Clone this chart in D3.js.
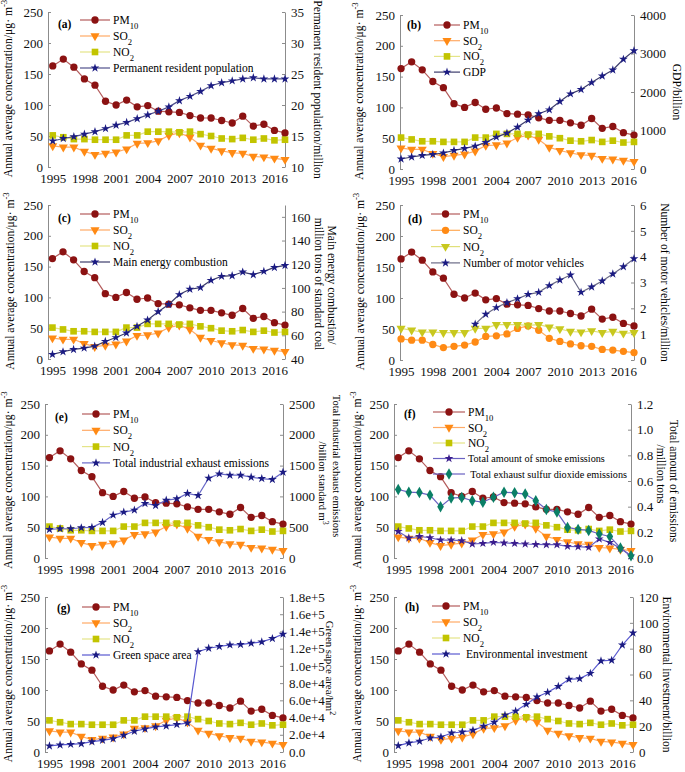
<!DOCTYPE html>
<html>
<head>
<meta charset="utf-8">
<script src="https://cdn.jsdelivr.net/npm/d3@7"></script>
<style>
  body { margin: 0; background: #fff; }
  text { font-family: "Liberation Serif", "Times New Roman", serif; }
</style>
</head>
<body>
<div id="chart"></div>
<script>
const W = 685, H = 772;

// ---- data ----
const years = [1995, 1996, 1997, 1998, 1999, 2000, 2001, 2002, 2003, 2004, 2005, 2006,
               2007, 2008, 2009, 2010, 2011, 2012, 2013, 2014, 2015, 2016, 2017];
const yearTicks = [1995, 1998, 2001, 2004, 2007, 2010, 2013, 2016];
const leftTicks = [0, 50, 100, 150, 200, 250];

const pm10 = [163, 174, 161, 142, 132, 106, 100, 108, 97, 99, 90, 89, 88, 83, 79, 79, 75, 71, 82, 66, 69, 59, 55];
const so2  = [34, 32, 32, 25, 20, 22, 24, 29, 38, 39, 42, 51, 55, 48, 35, 30, 26, 23, 22, 17, 16, 14, 12];
const no2  = [51, 48, 45, 45, 44, 44, 44, 51, 51, 57, 57, 57, 56, 57, 53, 50, 46, 45, 47, 44, 46, 43, 44];

const population = [14.2, 14.6, 14.9, 15.3, 15.7, 16.2, 16.75, 17.2, 17.8, 18.4, 19.0, 19.7,
                    20.7, 21.4, 22.2, 23.1, 23.6, 23.9, 24.2, 24.4, 24.2, 24.2, 24.2];
const gdp = [259, 311, 354, 380, 415, 484, 535, 596, 691, 829, 933, 1088,
             1270, 1434, 1537, 1753, 1952, 2064, 2245, 2418, 2573, 2850, 3074];
const energy = [43.9, 46.1, 48.1, 49.2, 50.9, 54.8, 58.1, 62.0, 67.6, 72.9, 79.9, 86.0,
                94.4, 98.9, 100.3, 106.4, 109.8, 110.3, 113.4, 111.2, 114.0, 117.3, 119.0];
const vehicles = [null, null, null, null, null, null, null, 1.39, 1.77, 2.03, 2.22, 2.37,
                  2.54, 2.62, 2.88, 3.10, 3.29, 2.62, 2.83, 3.06, 3.33, 3.61, 3.92];
const exhaust = [464, 475, 475, 491, 497, 578, 697, 745, 778, 886, 853, 940,
                 961, 1048, 1015, 1296, 1366, 1344, 1344, 1312, 1290, 1274, 1393];
const smoke = [0.207, 0.156, 0.168, 0.158, 0.140, 0.140, 0.135, 0.109, 0.114, 0.122, 0.117, 0.114,
               0.109, 0.106, 0.104, 0.104, 0.091, 0.088, 0.083, 0.148, 0.122, 0.075, 0.016];
const so2Emission = [0.534, 0.513, 0.510, 0.490, 0.400, 0.467, 0.472, 0.446, 0.435, 0.474, 0.513, 0.508,
                     0.498, 0.446, 0.378, 0.358, 0.238, 0.223, 0.215, 0.187, 0.168, 0.078, 0.018];
const green = [7000, 8200, 8900, 9700, 12000, 13600, 15500, 19400, 24100, 26800, 29200, 30300,
               31900, 33800, 116600, 120500, 122500, 124400, 124800, 126400, 127900, 131800, 136900];
const investment = [4.9, 7.0, 8.3, 10.8, 11.6, 14.7, 15.5, 16.8, 19.9, 23.0, 28.6, 31.7,
                    36.9, 42.6, 46.2, 50.8, 56.3, 56.8, 60.9, 70.5, 71.0, 82.8, 92.1];
const greenTicks = [0, 20000, 40000, 60000, 80000, 100000, 120000, 140000, 160000, 180000];
const greenTickLabels = ["0.0", "2.0e+4", "4.0e+4", "6.0e+4", "8.0e+4", "1.0e+5", "1.2e+5", "1.4e+5", "1.6e+5", "1.8e+5"];

// ---- styles ----
const PM = { name: "PM_{10}", values: pm10, sym: "circle", fill: "#8b1212", stroke: "#b45c5c" };
const SO = { name: "SO_{2}", values: so2, sym: "tri", fill: "#ff8a14", stroke: "#ffaa66" };
const NO = { name: "NO_{2}", values: no2, sym: "square", fill: "#c2c400", stroke: "#e4e488" };
const navy = "#1b1b82";

const panels = [
  { tag: "(a)", l: 48, r: 285, t: 12, b: 167, pad: 0.45, ylx: 8,
    rDomain: [10, 35], rTicks: [10, 15, 20, 25, 30, 35],
    rLabel: [{ x: 318, s: "Permanent resident population/million" }],
    leg: { x: 80, y: 20, len: 30, step: 16 }, tagPos: [58, 24],
    series: [PM, SO, NO, { name: "Permanent resident population", values: population, sym: "star", fill: navy, stroke: "#50508c", right: true }] },
  { tag: "(b)", l: 400, r: 634, t: 15, b: 169, pad: 0.1, ylx: 359,
    rDomain: [0, 4000], rTicks: [0, 1000, 2000, 3000, 4000],
    rLabel: [{ x: 677, s: "GDP/billion" }],
    leg: { x: 434, y: 25, len: 26, step: 15.7 }, tagPos: [407, 25],
    series: [PM, SO, NO, { name: "GDP", values: gdp, sym: "star", fill: navy, stroke: "#3c3c6c", right: true }] },
  { tag: "(c)", l: 48, r: 285, t: 205, b: 359, pad: 0.42, ylx: 10,
    rDomain: [40, 170], rTicks: [40, 60, 80, 100, 120, 140, 160],
    rLabel: [{ x: 332, s: "Main energy combustion/", cy: 285 }, { x: 319, s: "million tons of standard coal", cy: 284 }],
    leg: { x: 80, y: 214, len: 30, step: 16 }, tagPos: [58, 218],
    series: [PM, SO, NO, { name: "Main energy combustion", values: energy, sym: "star", fill: navy, stroke: "#3c3c6c", right: true }] },
  { tag: "(d)", l: 400, r: 634, t: 205, b: 360, pad: 0.1, ylx: 360,
    rDomain: [0, 6], rTicks: [0, 1, 2, 3, 4, 5, 6],
    rLabel: [{ x: 665, s: "Number of motor vehicles/million" }],
    leg: { x: 431, y: 214, len: 29, step: 16.3 }, tagPos: [408, 219],
    series: [PM, { name: "SO_{2}", values: so2, sym: "circle", fill: "#ff8a14", stroke: "#ffaa55" },
             { name: "NO_{2}", values: no2, sym: "tri", fill: "#c8c81e", stroke: "#e0e07a" },
             { name: "Number of motor vehicles", values: vehicles, sym: "star", fill: navy, stroke: "#6a6a86", right: true }] },
  { tag: "(e)", l: 45, r: 283, t: 404, b: 558, pad: 0.42, ylx: 8,
    rDomain: [0, 2500], rTicks: [0, 500, 1000, 1500, 2000, 2500],
    rLabel: [{ x: 337, s: "Total industrial exhaust emissions", cy: 466, fs: 10.5 }, { x: 323, s: "/billion standard m^{3}", cy: 483, fs: 10.5 }],
    leg: { x: 82, y: 414, len: 28, step: 16.3 }, tagPos: [55, 417],
    series: [PM, SO, NO, { name: "Total industrial exhaust emissions", values: exhaust, sym: "star", fill: navy, stroke: "#6868c8", right: true }] },
  { tag: "(f)", l: 394, r: 631, t: 404, b: 558, pad: 0.4, ylx: 357,
    rDomain: [0, 1.2], rTicks: [0, 0.2, 0.4, 0.6, 0.8, 1.0, 1.2], rFormat: ".1f",
    rLabel: [{ x: 674, s: "Total amount of emissions", cy: 481 }, { x: 661, s: "/million tons", cy: 474 }],
    leg: { x: 433, y: 412, len: 32, step: 15.5, small: true }, tagPos: [404, 414],
    series: [PM, SO, NO,
             { name: "Total amount of smoke emissions", values: smoke, sym: "star", fill: "#3a1c8c", stroke: "#6a62c2", right: true },
             { name: " Total exhaust sulfur dioxide emissions", values: so2Emission, sym: "diamond", fill: "#0a7f66", stroke: "#6a62c2", right: true }] },
  { tag: "(g)", l: 45, r: 283, t: 597, b: 752, pad: 0.42, ylx: 8,
    rDomain: [0, 180000], rTicks: greenTicks, rLabels: greenTickLabels,
    rLabel: [{ x: 330, s: "Green sapce area/hm^{2}", cy: 668, fs: 10.8 }],
    leg: { x: 82, y: 607, len: 28, step: 16 }, tagPos: [57, 608],
    series: [PM, SO, NO, { name: "Green space area", values: green, sym: "star", fill: navy, stroke: "#5858d0", right: true }] },
  { tag: "(h)", l: 394, r: 633, t: 597, b: 752, pad: 0.4, ylx: 357,
    rDomain: [0, 120], rTicks: [0, 20, 40, 60, 80, 100, 120],
    rLabel: [{ x: 667, s: "Environmental investment/billion" }],
    leg: { x: 432, y: 606, len: 28, step: 16 }, tagPos: [405, 607],
    series: [PM, SO, NO, { name: " Environmental investment", values: investment, sym: "star", fill: navy, stroke: "#5a5ad0", right: true }] },
];

const svg = d3.select("#chart").append("svg").attr("width", W).attr("height", H);

// text with _{sub} and ^{sup} parts
function richText(sel, str) {
  str.split(/(_\{[^}]*\}|\^\{[^}]*\})/).filter(p => p.length).forEach(p => {
    if (p[0] === "_" || p[0] === "^") {
      sel.append("tspan").text(p.slice(2, -1))
         .attr("baseline-shift", p[0] === "_" ? "sub" : "super")
         .attr("font-size", "75%");
    } else {
      sel.append("tspan").text(p);
    }
  });
  return sel;
}

const symbols = {
  circle: d3.symbol().type(d3.symbolCircle).size(42),
  square: d3.symbol().type(d3.symbolSquare).size(44),
  tri: d3.symbol().type(d3.symbolTriangle).size(36),
  star: d3.symbol().type(d3.symbolStar).size(24),
  diamond: d3.symbol().type(d3.symbolDiamond).size(38),
};
function marker(g, s, x, y) {
  g.append("path")
   .attr("d", symbols[s.sym]())
   .attr("transform", `translate(${x},${y})` + (s.sym === "tri" ? " rotate(180)" : ""))
   .attr("fill", s.fill);
}

panels.forEach(p => {
  const g = svg.append("g");
  const x = d3.scaleLinear().domain([1995 - p.pad, 2017]).range([p.l, p.r]);
  const yL = d3.scaleLinear().domain([0, 250]).range([p.b, p.t]);
  const yR = d3.scaleLinear().domain(p.rDomain).range([p.b, p.t]);

  // axes
  const la = g.append("g").attr("transform", `translate(${p.l},0)`)
    .call(d3.axisLeft(yL).tickValues(leftTicks).tickSizeInner(-3).tickSizeOuter(0).tickPadding(5));
  const rAxis = d3.axisRight(yR).tickValues(p.rTicks).tickSizeInner(-3).tickSizeOuter(0).tickPadding(6);
  if (p.rLabels) rAxis.tickFormat((d, i) => p.rLabels[i]);
  else rAxis.tickFormat(d3.format(p.rFormat || "d"));
  const ra = g.append("g").attr("transform", `translate(${p.r},0)`).call(rAxis);
  const xa = g.append("g").attr("transform", `translate(0,${p.b})`)
    .call(d3.axisBottom(x).tickValues(yearTicks).tickFormat(d3.format("d")).tickSize(0).tickPadding(7));
  xa.select(".domain").remove();
  [la, ra, xa].forEach(a => {
    a.selectAll("path, line").attr("stroke", "#8c8c8c");
    a.selectAll("text").attr("font-size", 13).attr("fill", "#111")
     .attr("font-family", '"Liberation Serif", "Times New Roman", serif');
  });

  // axis titles
  richText(g.append("text")
    .attr("transform", `translate(${p.ylx},${(p.t + p.b) / 2 - 1}) rotate(-90)`)
    .attr("text-anchor", "middle").attr("dy", "0.35em").attr("font-size", 11.6),
    "Annual average concentration/μg· m^{-3}");
  p.rLabel.forEach(lb => {
    richText(g.append("text")
      .attr("transform", `translate(${lb.x},${lb.cy || (p.t + p.b) / 2}) rotate(90)`)
      .attr("text-anchor", "middle").attr("dy", "0.35em").attr("font-size", lb.fs || 11.6),
      lb.s);
  });

  // series
  p.series.forEach(s => {
    const y = s.right ? yR : yL;
    const pts = s.values.map((v, i) => ({ yr: years[i], v })).filter(d => d.v != null);
    g.append("path").datum(pts)
      .attr("fill", "none").attr("stroke", s.stroke).attr("stroke-width", 1.2)
      .attr("d", d3.line().x(d => x(d.yr)).y(d => y(d.v)));
    pts.forEach(d => marker(g, s, x(d.yr), y(d.v)));
  });

  // panel tag
  g.append("text").attr("x", p.tagPos[0]).attr("y", p.tagPos[1]).attr("dy", "0.35em")
    .attr("font-size", 11.5).attr("font-weight", "bold").text(p.tag);

  // legend
  p.series.forEach((s, i) => {
    const ly = p.leg.y + i * p.leg.step;
    g.append("line").attr("x1", p.leg.x).attr("x2", p.leg.x + p.leg.len)
      .attr("y1", ly).attr("y2", ly).attr("stroke", s.stroke).attr("stroke-width", 1.2);
    marker(g, s, p.leg.x + p.leg.len / 2, ly);
    const fs = p.leg.small && i > 2 ? 10.2 : 11.5;
    richText(g.append("text").attr("x", p.leg.x + p.leg.len + 3).attr("y", ly)
      .attr("dy", "0.35em").attr("font-size", fs)
      .style("white-space", "pre"), s.name);
  });
});
</script>
</body>
</html>
